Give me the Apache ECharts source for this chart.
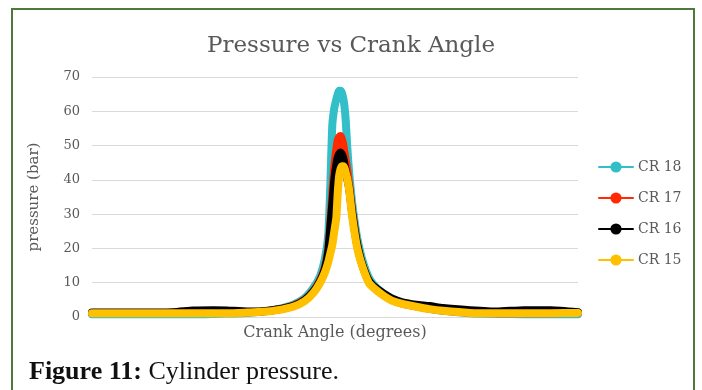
<!DOCTYPE html>
<html>
<head>
<meta charset="utf-8">
<script src="https://cdn.jsdelivr.net/npm/echarts@6/dist/echarts.min.js"></script>
<style>
  html, body { margin: 0; padding: 0; background: #fff; }
  #frame { position: absolute; left: 11px; top: 8px; width: 680px; height: 400px; border: 2px solid #4d7a3a; }
  #chart { position: absolute; left: 0; top: 0; width: 702px; height: 390px; }
</style>
</head>
<body>
<div id="frame"></div>
<div id="chart"></div>
<script>
// crank angle (deg) shared by all series
const angles = [0, 60, 120, 150, 180, 200, 230, 253, 275, 298, 315, 328, 338, 345, 350, 353, 356, 359, 362, 364,
  366, 368, 370, 372, 374, 376, 378, 381, 385, 389, 393, 400, 410, 420, 432, 444, 460, 480, 500, 520,
  560, 600, 640, 680, 720];

// pressure (bar)
const cr18 = [0.8, 0.8, 0.8, 0.8, 0.9, 1.0, 1.2, 1.6, 2.3, 3.6, 5.5, 8.5, 12, 17, 24, 38, 56, 61, 63.5, 65,
  66, 66, 65.5, 64, 61.5, 57, 50, 42, 34, 28, 23, 17, 11.5, 8.8, 6.8, 5.2, 4.0, 3.1, 2.4, 1.8,
  1.1, 0.9, 0.8, 0.8, 0.8];
const cr17 = [1.2, 1.2, 1.2, 1.2, 1.2, 1.3, 1.4, 1.6, 2.2, 3.3, 5, 7.6, 10.8, 14.5, 20, 27, 36, 44, 49, 51.5,
  52.5, 52.8, 52, 50.5, 48, 45.5, 43, 38.5, 31.5, 26, 21, 15.5, 10.5, 8.3, 6.4, 5, 3.9, 3.1, 2.4, 1.9,
  1.3, 1.1, 1.1, 1.1, 1.2];
const cr16 = [1.3, 1.3, 1.4, 1.9, 2.0, 1.9, 1.6, 1.7, 2.2, 3.2, 4.9, 7.4, 10.5, 14, 19, 26, 33, 40, 44.5, 46.5,
  47.5, 48, 47.5, 46.5, 44.5, 42.5, 40.5, 37.5, 31, 25.5, 21, 15.5, 10.6, 8.5, 6.8, 5.4, 4.3, 3.6, 3.2, 2.6,
  2.0, 1.6, 2.0, 2.0, 1.4];
const cr15 = [1.1, 1.1, 1.1, 1.1, 1.1, 1.1, 1.3, 1.5, 2.0, 3.0, 4.6, 7, 10, 13, 16, 18.5, 21, 25, 29, 36,
  41, 43, 44, 44, 43.5, 42, 40.5, 37, 30, 24.5, 20, 15, 10, 8, 6.2, 4.8, 3.8, 3, 2.3, 1.8,
  1.2, 1.1, 1.1, 1.1, 1.2];

const seriesNames = ['CR 18', 'CR 17', 'CR 16', 'CR 15'];
const seriesValues = [cr18, cr17, cr16, cr15];
const seriesColors = ['#33bfc8', '#ff2a00', '#000000', '#ffc000'];

const serif = 'DejaVu Serif';

const chart = echarts.init(document.getElementById('chart'));

chart.setOption({
  animation: false,
  backgroundColor: 'transparent',
  title: [
    {
      text: 'Pressure vs Crank Angle',
      left: 'center',
      top: 30,
      textStyle: { fontFamily: serif, fontSize: 23, fontWeight: 'normal', color: '#595959' }
    },
    {
      text: '{b|Figure 11:} Cylinder pressure.',
      left: 24,
      top: 354,
      textStyle: {
        fontFamily: 'Liberation Serif', fontSize: 26, fontWeight: 'normal', color: '#111',
        rich: { b: { fontFamily: 'Liberation Serif', fontSize: 26, fontWeight: 'bold', color: '#111' } }
      }
    }
  ],
  legend: {
    orient: 'vertical',
    left: 593,
    top: 155,
    itemWidth: 34,
    itemHeight: 14,
    itemGap: 17,
    data: seriesNames,
    textStyle: { fontFamily: serif, fontSize: 14, color: '#595959' }
  },
  grid: { left: 92, right: 124, top: 77, bottom: 73 },
  xAxis: {
    type: 'value',
    min: 0,
    max: 720,
    name: 'Crank Angle (degrees)',
    nameLocation: 'middle',
    nameGap: 8,
    nameTextStyle: { fontFamily: serif, fontSize: 16, color: '#595959' },
    axisLine: { lineStyle: { color: '#d9d9d9', width: 1 } },
    axisTick: { show: false },
    axisLabel: { show: false },
    splitLine: { show: false }
  },
  yAxis: {
    type: 'value',
    min: 0,
    max: 70,
    interval: 10,
    name: 'pressure (bar)',
    nameLocation: 'middle',
    nameGap: 50,
    nameTextStyle: { fontFamily: serif, fontSize: 15, color: '#595959' },
    axisLine: { show: false },
    axisTick: { show: false },
    axisLabel: { fontFamily: serif, fontSize: 13, color: '#595959', margin: 12 },
    splitLine: { lineStyle: { color: '#d9d9d9', width: 1 } }
  },
  series: seriesNames.map((name, i) => ({
    name: name,
    type: 'line',
    smooth: 0.2,
    showSymbol: false,
    symbol: 'circle',
    symbolSize: 9,
    color: seriesColors[i],
    lineStyle: { width: 8, color: seriesColors[i], cap: 'round', join: 'round' },
    data: angles.map((a, j) => [a, seriesValues[i][j]])
  }))
});
</script>
</body>
</html>
